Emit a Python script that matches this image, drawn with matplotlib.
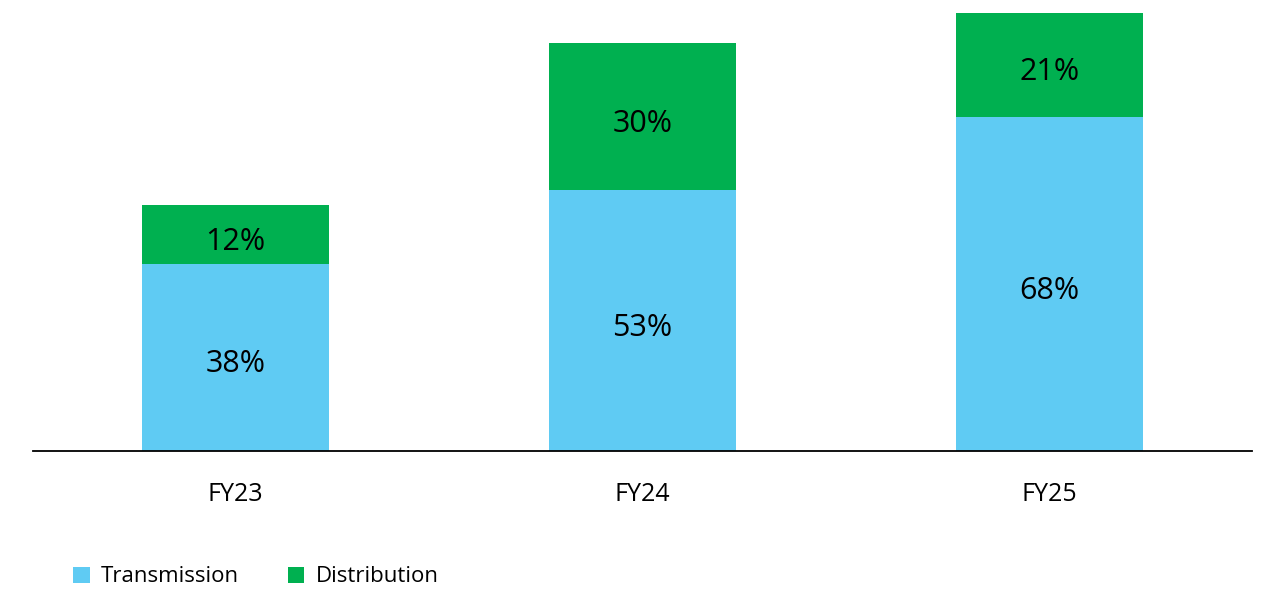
import numpy as np
from matplotlib import pyplot as plt

years = ["FY23", "FY24", "FY25"]
transmission = [38, 53, 68]
distribution = [12, 30, 21]

blue = "#5FCBF3"
green = "#00B050"

plt.rcParams['font.family'] = ['Open Sans', 'DejaVu Sans']

fig = plt.figure(figsize=(12.62, 5.89), dpi=100)
ax = fig.add_axes([33 / 1262, (589 - 451) / 589, (1252 - 33) / 1262, 451 / 589])

x = np.arange(len(years))
w = 0.46
ax.bar(x, transmission, w, color=blue, label="Transmission")
ax.bar(x, distribution, w, bottom=transmission, color=green, label="Distribution")

# labels sit a bit below the segment middle in the original
for i in range(len(years)):
    ax.annotate(f"{transmission[i]}%", (x[i], transmission[i] / 2), xytext=(0, -5),
                textcoords="offset points", ha="center", va="center", fontsize=22)
    ax.annotate(f"{distribution[i]}%", (x[i], transmission[i] + distribution[i] / 2), xytext=(0, -5),
                textcoords="offset points", ha="center", va="center", fontsize=22)

ax.set_xlim(-0.4975, 2.4975)
ax.set_ylim(0, 91.7)
ax.set_xticks(x)
ax.set_xticklabels(years, fontsize=18)
ax.tick_params(axis="x", length=0, pad=22)
ax.set_yticks([])
for s in ["top", "right", "left"]:
    ax.spines[s].set_visible(False)
ax.spines["bottom"].set_linewidth(1.3)

ax.legend(loc="center left", bbox_to_anchor=(64 / 1262, 12 / 589), bbox_transform=fig.transFigure,
          ncol=2, frameon=False, fontsize=16, handlelength=0.75, handleheight=0.75,
          handletextpad=0.5, columnspacing=2.2, borderaxespad=0)

fig.savefig("out.png")
